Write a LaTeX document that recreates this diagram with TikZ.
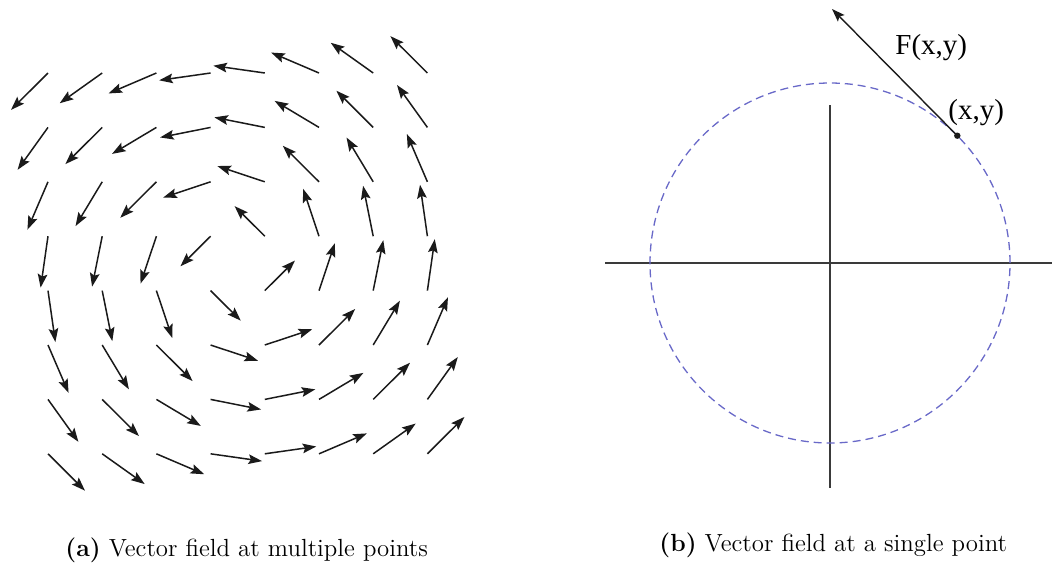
\documentclass[tikz,border=0pt]{standalone}
\usepackage{fontspec}
\usepackage{tikz}
\usetikzlibrary{arrows.meta}
\newfontfamily\ptfont{Liberation Serif}
\definecolor{FieldBlack}{HTML}{1A1A1A}
\definecolor{AxisGray}{HTML}{3A3A3A}
\definecolor{CircleBlue}{RGB}{105,105,200}
\tikzset{
  fieldarrow/.style={-{Stealth[length=6.8pt,width=4.8pt,inset=1.2pt]},line width=.75pt,FieldBlack},
  axisline/.style={line width=.75pt,AxisGray},
  forcearrow/.style={-{Stealth[length=6.5pt,width=4.6pt,inset=1.2pt]},line width=.7pt,FieldBlack},
  caption/.style={font=\fontsize{12.4}{15}\selectfont,anchor=base west,inner sep=0pt},
  ptlabel/.style={font=\ptfont\fontsize{14.5}{16}\selectfont,anchor=base west,inner sep=0pt}
}
\begin{document}
\begin{tikzpicture}[x=.5pt,y=-.5pt]
  \useasboundingbox (0,0) rectangle (1052,563);
  \foreach \i in {0,...,7}{
    \foreach \j in {0,...,7}{
      \pgfmathsetmacro{\px}{48+54.2*\i}
      \pgfmathsetmacro{\py}{73+54.4*\j}
      \pgfmathsetmacro{\ux}{(\py-263.4)/100}
      \pgfmathsetmacro{\uy}{(237.7-\px)/100}
      \pgfmathsetmacro{\sc}{52.5/sqrt(\ux*\ux+\uy*\uy+.0768)}
      \draw[fieldarrow] (\px,\py) -- ++(\sc*\ux,\sc*\uy);
    }
  }
  \coordinate (O) at (830,263);
  \coordinate (axL) at (605,263);
  \coordinate (axR) at (1052,263);
  \coordinate (axT) at (830,105);
  \coordinate (axB) at (830,488);
  \draw[axisline] (axL) -- (axR);
  \draw[axisline] (axT) -- (axB);
  \draw[CircleBlue,line width=.65pt,dash pattern=on 4pt off 2.5pt] (O) circle (90pt);
  \node[fill=FieldBlack,circle,inner sep=0pt,minimum size=3.2pt] (P) at (957.3,135.7) {};
  \coordinate (Ftip) at (832,9);
  \draw[forcearrow] (P.center) -- (Ftip);
  \node[ptlabel] (Flab) at (895,54) {F(x,y)};
  \node[ptlabel] (Plab) at (948,119) {(x,y)};
  \node[caption] (capA) at (65,556) {\textbf{(a)} Vector field at multiple points};
  \node[caption] (capB) at (659,551) {\textbf{(b)} Vector field at a single point};
\end{tikzpicture}
\end{document}
